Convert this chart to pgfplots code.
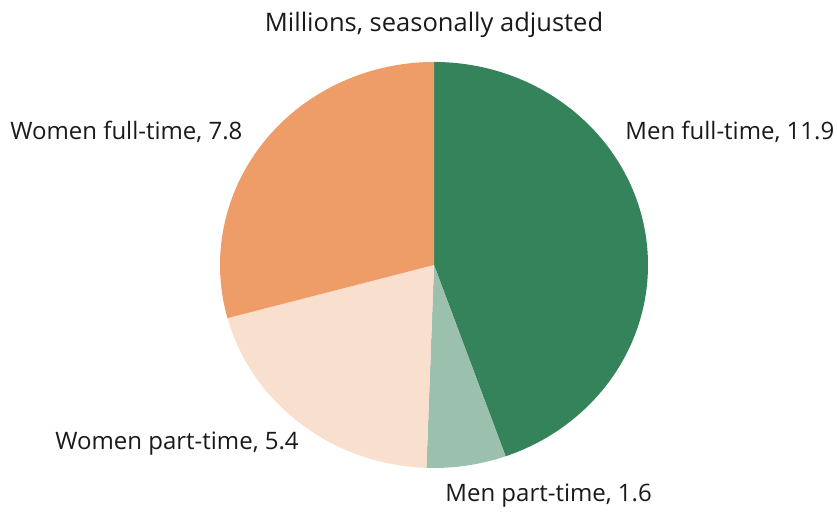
\documentclass[border=0pt]{standalone}
\usepackage{pgfplots}
\usepackage{pgfplotstable}
\usepackage{fontspec}
\setmainfont{Open Sans}
\pgfplotsset{compat=1.18}

\definecolor{menft}{HTML}{35835A}
\definecolor{menpt}{HTML}{9BC1AE}
\definecolor{wompt}{HTML}{F8DFCE}
\definecolor{womft}{HTML}{EE9D68}
\definecolor{txt}{HTML}{1A1A1A}

% Millions, seasonally adjusted
\pgfplotstableread{
label value
MenFT 11.9
MenPT 1.6
WomPT 5.4
WomFT 7.8
}\piedata

\pgfplotstablegetelem{0}{value}\of\piedata \let\vA\pgfplotsretval
\pgfplotstablegetelem{1}{value}\of\piedata \let\vB\pgfplotsretval
\pgfplotstablegetelem{2}{value}\of\piedata \let\vC\pgfplotsretval
\pgfplotstablegetelem{3}{value}\of\piedata \let\vD\pgfplotsretval
\pgfmathsetmacro\total{\vA+\vB+\vC+\vD}
% slice boundaries, clockwise from 12 o'clock
\pgfmathsetmacro\aA{90}
\pgfmathsetmacro\aB{\aA-360*\vA/\total}
\pgfmathsetmacro\aC{\aB-360*\vB/\total}
\pgfmathsetmacro\aD{\aC-360*\vC/\total}
\pgfmathsetmacro\aE{\aD-360*\vD/\total}

\newcommand{\cx}{434}
\newcommand{\cy}{247}
\newcommand{\rx}{214}
\newcommand{\ry}{203}
\newcommand{\slice}[3]{%
  \fill[#1] (axis cs:\cx,\cy) -- (axis cs:{\cx+\rx*cos(#2)},{\cy+\ry*sin(#2)})
    arc[start angle=#2, end angle=#3, x radius=\rx, y radius=\ry] -- cycle;}

\begin{document}
\begin{tikzpicture}
\begin{axis}[
    x=0.5pt, y=0.5pt,
    xmin=0, xmax=837, ymin=0, ymax=512,
    hide axis, clip=false,
]
\path (axis cs:0,0) rectangle (axis cs:837,512);
\slice{menft}{\aA}{\aB}
\slice{menpt}{\aB}{\aC}
\slice{wompt}{\aC}{\aD}
\slice{womft}{\aD}{\aE}

\begin{scope}[every node/.style={font=\fontsize{12}{14}\selectfont, text=txt, inner sep=0pt}]
\node[anchor=base, font=\fontsize{12.75}{15}\selectfont] at (axis cs:434,480) {Millions, seasonally adjusted};
\node[anchor=base west] at (axis cs:625,372) {Men full-time, 11.9};
\node[anchor=base west] at (axis cs:10,372) {Women full-time, 7.8};
\node[anchor=base west] at (axis cs:55,62) {Women part-time, 5.4};
\node[anchor=base west] at (axis cs:445,10) {Men part-time, 1.6};
\end{scope}
\end{axis}
\end{tikzpicture}
\end{document}
